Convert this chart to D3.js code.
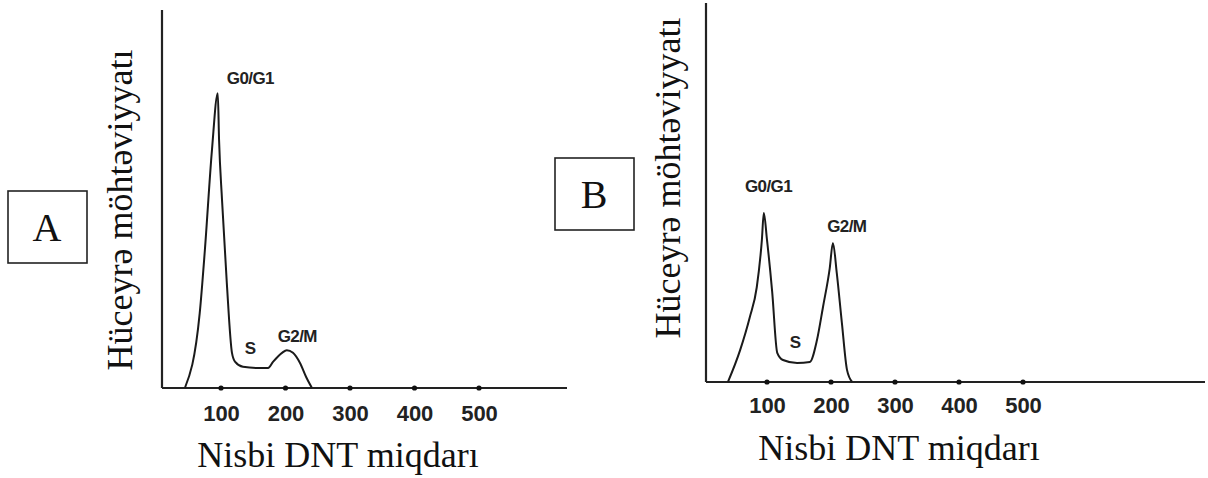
<!DOCTYPE html>
<html>
<head>
<meta charset="utf-8">
<script src="https://cdn.jsdelivr.net/npm/d3@7"></script>
<style>
  body { margin: 0; background: #fff; }
  svg { display: block; }
  .serif { font-family: "Liberation Serif", "Times New Roman", serif; fill: #111; }
  .sans { font-family: "Liberation Sans", Arial, sans-serif; fill: #222; }
</style>
</head>
<body>
<svg id="chart" width="1208" height="478"></svg>
<script>
(function() {
  'use strict';

// DNA content (relative units) and cell count (% of axis height)
var dnaA   = [44, 67, 75, 86, 95, 97, 101.6, 109, 117, 122, 134, 156, 173, 180.6, 194.6, 202, 211.6, 222.5, 232, 241];
var countA = [0, 19.8, 36.5, 63, 78, 65.6, 49.7, 27.8, 9.3, 6.9, 5.6, 5.3, 5.3, 6.9, 9.3, 10, 9.3, 6.6, 2.9, 0];

var dnaB   = [39, 58, 73, 84, 92, 95, 100, 108, 116, 125, 147, 167, 178, 187.5, 198, 203, 209, 217, 225, 233];
var countB = [0, 8.4, 17, 25, 37.5, 44.6, 37.5, 24, 7.7, 5.8, 5, 5.3, 11, 19.8, 30, 36.7, 28.8, 15.6, 3.2, 0];

var ticks = [100, 200, 300, 400, 500];

// phase labels: text, dna position, count position
var phasesA = [["G0/G1", 109, 80.4, "start"], ["S", 145, 9, "middle"], ["G2/M", 188, 12.2, "start"]];
var phasesB = [["G0/G1", 65.6, 50.1, "start"], ["S", 144, 9, "middle"], ["G2/M", 194, 39.6, "start"]];

var xTitle = "Nisbi DNT miqdarı";
var yTitle = "Hüceyrə möhtəviyyatı";

var svg = d3.select("#chart");

function drawPanel(p) {
  var x = d3.scaleLinear().domain([0, 500]).range(p.xr);
  var y = d3.scaleLinear().domain([0, 100]).range([p.bottom, p.top]);
  var g = svg.append("g");

  // axes lines
  g.append("line")
   .attr("x1", p.ax).attr("x2", p.ax).attr("y1", p.top).attr("y2", p.bottom)
   .attr("stroke", "#222").attr("stroke-width", 2.2);
  g.append("line")
   .attr("x1", p.ax).attr("x2", p.xEnd).attr("y1", p.bottom).attr("y2", p.bottom)
   .attr("stroke", "#222").attr("stroke-width", 2.2);

  var axis = g.append("g")
    .attr("transform", "translate(0," + p.bottom + ")")
    .call(d3.axisBottom(x).tickValues(ticks).tickSize(0).tickPadding(p.pad).tickFormat(d3.format("d")));
  axis.select(".domain").remove();
  axis.selectAll("text")
    .attr("class", "sans")
    .style("font-size", "22px").style("font-weight", "bold");

  g.selectAll(".dot").data(ticks).enter().append("circle")
   .attr("cx", function(d) { return x(d); })
   .attr("cy", p.bottom)
   .attr("r", 2.6).attr("fill", "#111");

  // histogram curve
  var pts = d3.zip(p.dna, p.count);
  g.append("path")
   .attr("d", d3.line().x(function(d) { return x(d[0]); }).y(function(d) { return y(d[1]); })
                .curve(d3.curveMonotoneX)(pts))
   .attr("fill", "none").attr("stroke", "#1a1a1a").attr("stroke-width", 2)
   .attr("stroke-linejoin", "round");

  g.selectAll(".phase").data(p.phases).enter().append("text")
   .attr("class", "sans")
   .attr("x", function(d) { return x(d[1]); })
   .attr("y", function(d) { return y(d[2]); })
   .attr("text-anchor", function(d) { return d[3]; })
   .style("font-size", "17px").style("font-weight", "bold").style("letter-spacing", "-0.6px")
   .text(function(d) { return d[0]; });

  // titles
  g.append("text").attr("class", "serif")
   .attr("x", p.xtx).attr("y", p.xty).attr("text-anchor", "middle")
   .style("font-size", "36px").text(xTitle);
  g.append("text").attr("class", "serif")
   .attr("transform", "translate(" + p.ytx + "," + p.yty + ") rotate(-90)")
   .attr("text-anchor", "middle")
   .style("font-size", "36px").text(yTitle);

  // panel letter box
  g.append("rect")
   .attr("x", p.box[0]).attr("y", p.box[1]).attr("width", 79).attr("height", 72)
   .attr("fill", "none").attr("stroke", "#222").attr("stroke-width", 1.6);
  g.append("text").attr("class", "serif")
   .attr("x", p.box[0] + 39).attr("y", p.box[1] + 50).attr("text-anchor", "middle")
   .style("font-size", "40px").text(p.letter);
}

drawPanel({
  dna: dnaA, count: countA, phases: phasesA, letter: "A",
  xr: [156.5, 479], ax: 162, top: 10, bottom: 388, xEnd: 567, pad: 17,
  xtx: 338, xty: 467, ytx: 132, yty: 210, box: [8, 191]
});

drawPanel({
  dna: dnaB, count: countB, phases: phasesB, letter: "B",
  xr: [703, 1023], ax: 706, top: 3, bottom: 382, xEnd: 1205, pad: 15,
  xtx: 899, xty: 460, ytx: 680, yty: 178, box: [555, 158]
});

})();
</script>
</body>
</html>
